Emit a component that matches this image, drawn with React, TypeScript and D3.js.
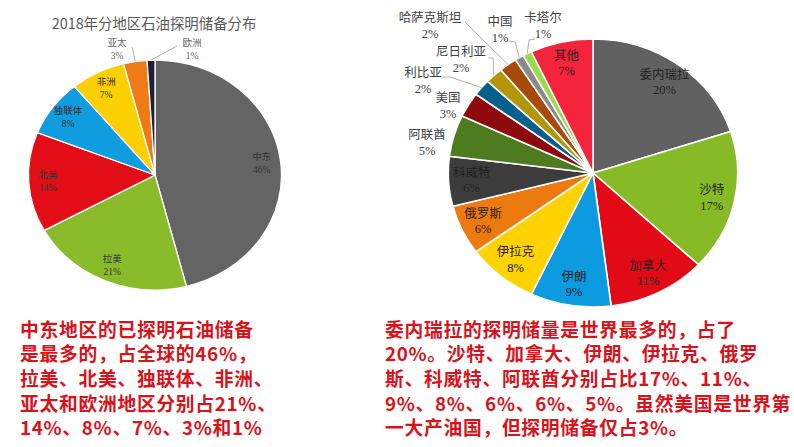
import React from 'react';
import * as d3 from 'd3';

const leftTitle = '2018年分地区石油探明储备分布';
const leftCategories = ['中东', '拉美', '北美', '独联体', '非洲', '亚太', '欧洲'];
const leftValues = [46, 21, 14, 8, 7, 3, 1];
const leftColors = ['#646464', '#8abb2a', '#e30d17', '#0f9de0', '#fcd000', '#ee7b13', '#1e2133'];

const rightCategories = ['委内瑞拉', '沙特', '加拿大', '伊朗', '伊拉克', '俄罗斯', '科威特', '阿联酋', '美国', '利比亚', '尼日利亚', '哈萨克斯坦', '中国', '卡塔尔', '其他'];
const rightValues = [20, 17, 11, 9, 8, 6, 6, 5, 3, 2, 2, 2, 1, 1, 7];
const rightColors = ['#616161', '#86bb27', '#e20a16', '#0c9ae0', '#ffd200', '#ec7a0e', '#3c3c3c', '#4e7b1f', '#8e0a0f', '#075f8c', '#b4960c', '#a64b0c', '#8a8a8a', '#a0d84b', '#f3243b'];

const leftText = [
  '中东地区的已探明石油储备',
  '是最多的，占全球的46%，',
  '拉美、北美、独联体、非洲、',
  '亚太和欧洲地区分别占21%、',
  '14%、8%、7%、3%和1%',
];
const rightText = [
  '委内瑞拉的探明储量是世界最多的，占了',
  '20%。沙特、加拿大、伊朗、伊拉克、俄罗',
  '斯、科威特、阿联酋分别占比17%、11%、',
  '9%、8%、6%、6%、5%。虽然美国是世界第',
  '一大产油国，但探明储备仅占3%。',
];

type Outside = { x: number; y: number; line?: [number, number][] };

// layout for labels placed outside the pies
const leftOutside: Record<string, Outside> = {
  '亚太': { x: 117, y: 43, line: [[132, 47]] },
  '欧洲': { x: 192, y: 43, line: [[177, 46]] },
};
const rightOutside: Record<string, Outside> = {
  '哈萨克斯坦': { x: 430, y: 18, line: [[465, 22]] },
  '中国': { x: 500, y: 22, line: [[508, 41], [515, 42]] },
  '卡塔尔': { x: 543, y: 18, line: [[535, 39], [529, 40]] },
  '尼日利亚': { x: 461, y: 52, line: [[488, 58], [493, 58]] },
  '利比亚': { x: 423, y: 73, line: [[443, 77], [450, 77]] },
  '美国': { x: 448, y: 98 },
  '阿联酋': { x: 427, y: 135 },
};

const serif = "'Liberation Serif','DejaVu Serif','Noto Sans CJK SC',serif";
const sans = "'Noto Sans CJK SC','Noto Sans',sans-serif";

function Pie(props: {
  cx: number; cy: number; ry: number; sx: number;
  cats: string[]; vals: number[]; colors: string[];
  fontSize: number; lineGap: number; labelR: number; strokeW: number;
  outside: Record<string, Outside>; insideColor: string; outsideColor: string;
}) {
  const { cx, cy, ry, sx, cats, vals, colors, fontSize, lineGap, labelR, strokeW, outside, insideColor, outsideColor } = props;
  const data = cats.map((c, i) => ({ c, v: vals[i], color: colors[i] }));
  const pie = d3.pie<any>().value((d) => d.v).sort(null).startAngle(0).endAngle(2 * Math.PI);
  const arcs = pie(data);
  const arc = d3.arc<any>().innerRadius(0).outerRadius(ry);
  const total = d3.sum(vals);
  return (
    <g>
      <g transform={`translate(${cx},${cy}) scale(${sx},1)`}>
        {arcs.map((a, i) => (
          <path key={i} d={arc(a) as string} fill={a.data.color} stroke="#fff" strokeWidth={strokeW} vectorEffect="non-scaling-stroke" />
        ))}
      </g>
      {arcs.map((a, i) => {
        const mid = (a.startAngle + a.endAngle) / 2;
        const pct = `${Math.round((a.data.v / total) * 100)}%`;
        const o = outside[a.data.c];
        if (o) {
          const ex = cx + sx * ry * Math.sin(mid);
          const ey = cy - ry * Math.cos(mid);
          const pts = o.line ? [...o.line, [ex, ey]] : null;
          return (
            <g key={'l' + i}>
              {pts && (
                <polyline points={pts.map((p) => p.join(',')).join(' ')} fill="none" stroke="#a6a6a6" strokeWidth={0.9} />
              )}
              <text x={o.x} y={o.y} dy="0.35em" textAnchor="middle" fontSize={fontSize} fill={outsideColor} fontFamily={serif}>{a.data.c}</text>
              <text x={o.x} y={o.y + lineGap} dy="0.35em" textAnchor="middle" fontSize={fontSize} fill={outsideColor} fontFamily={serif}>{pct}</text>
            </g>
          );
        }
        const r = ry * labelR;
        const lx = cx + sx * r * Math.sin(mid);
        const ly = cy - r * Math.cos(mid) - lineGap / 2;
        return (
          <g key={'l' + i}>
            <text x={lx} y={ly} dy="0.35em" textAnchor="middle" fontSize={fontSize} fill={insideColor} fontFamily={serif}>{a.data.c}</text>
            <text x={lx} y={ly + lineGap} dy="0.35em" textAnchor="middle" fontSize={fontSize} fill={insideColor} fontFamily={serif}>{pct}</text>
          </g>
        );
      })}
    </g>
  );
}

export default function App() {
  const W = 794, H = 447;
  const textSize = 18.8;
  const rowY = d3.range(leftText.length).map((i) => 330 + i * 24.6);
  return (
    <svg width={W} height={H} viewBox={`0 0 ${W} ${H}`} style={{ position: 'absolute', left: 0, top: 0, background: '#fff' }}>
      <rect width={W} height={H} fill="#fff" />
      <text x={154} y={24} dy="0.35em" textAnchor="middle" fontSize={14.4} fill="#595959" fontFamily={sans}>{leftTitle}</text>
      <Pie cx={155} cy={175} ry={115} sx={1.1} cats={leftCategories} vals={leftValues} colors={leftColors}
        fontSize={9.5} lineGap={13} labelR={0.85} strokeW={1.3} outside={leftOutside} insideColor="#333" outsideColor="#666" />
      <Pie cx={593} cy={173} ry={134} sx={1.08} cats={rightCategories} vals={rightValues} colors={rightColors}
        fontSize={12.5} lineGap={15.5} labelR={0.84} strokeW={1.6} outside={rightOutside} insideColor="#222" outsideColor="#404040" />
      {leftText.map((t, i) => (
        <text key={'lt' + i} x={20} y={rowY[i]} dy="0.36em" fontSize={textSize} letterSpacing={0.7} fontWeight="bold" fill="#d8131c" fontFamily={sans}>{t}</text>
      ))}
      {rightText.map((t, i) => (
        <text key={'rt' + i} x={385} y={rowY[i]} dy="0.36em" fontSize={textSize} letterSpacing={0.7} fontWeight="bold" fill="#d8131c" fontFamily={sans}>{t}</text>
      ))}
    </svg>
  );
}
